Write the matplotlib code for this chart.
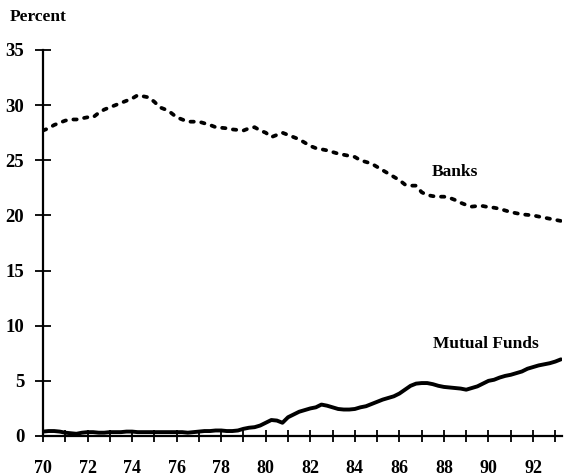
import numpy as np
import matplotlib
matplotlib.use("Agg")
import matplotlib.pyplot as plt

# quarterly observations, 1970Q1 .. 1993Q2
years = np.arange(70.0, 93.26, 0.25)

banks = [27.7, 27.9, 28.2, 28.4,
         28.6, 28.7, 28.7, 28.8,
         28.9, 28.9, 29.3, 29.6,
         29.8, 30.0, 30.2, 30.4,
         30.6, 30.9, 30.8, 30.7,
         30.3, 29.8, 29.6, 29.3,
         28.9, 28.7, 28.5, 28.5,
         28.5, 28.35, 28.2, 28.0,
         27.95, 27.9, 27.8, 27.75,
         27.7, 27.9, 28.0, 27.7,
         27.5, 27.1, 27.3, 27.5,
         27.3, 27.1, 26.9, 26.6,
         26.3, 26.1, 26.0, 25.9,
         25.75, 25.6, 25.5, 25.4,
         25.3, 25.0, 24.85, 24.7,
         24.4, 24.1, 23.8, 23.5,
         23.2, 22.8, 22.7, 22.7,
         22.1, 21.85, 21.75, 21.7,
         21.7, 21.6, 21.4, 21.15,
         20.95, 20.8, 20.85, 20.85,
         20.75, 20.7, 20.6, 20.45,
         20.3, 20.2, 20.1, 20.05,
         20.0, 19.9, 19.8, 19.7,
         19.6, 19.5]

mutual_funds = [0.4, 0.45, 0.45, 0.4,
                0.3, 0.25, 0.2, 0.3,
                0.35, 0.35, 0.3, 0.3,
                0.35, 0.35, 0.35, 0.4,
                0.4, 0.35, 0.35, 0.35,
                0.35, 0.35, 0.35, 0.35,
                0.35, 0.35, 0.3, 0.35,
                0.4, 0.45, 0.45, 0.5,
                0.5, 0.45, 0.45, 0.5,
                0.65, 0.75, 0.8, 0.95,
                1.2, 1.45, 1.4, 1.2,
                1.7, 1.95, 2.2, 2.35,
                2.5, 2.6, 2.85, 2.75,
                2.6, 2.45, 2.4, 2.4,
                2.45, 2.6, 2.7, 2.9,
                3.1, 3.3, 3.45, 3.6,
                3.85, 4.2, 4.55, 4.75,
                4.8, 4.8, 4.7, 4.55,
                4.45, 4.4, 4.35, 4.3,
                4.2, 4.35, 4.5, 4.75,
                5.0, 5.1, 5.3, 5.45,
                5.55, 5.7, 5.85, 6.1,
                6.25, 6.4, 6.5, 6.6,
                6.75, 6.95]

x_major = [70, 72, 74, 76, 78, 80, 82, 84, 86, 88, 90, 92]
x_labels = ["70", "72", "74", "76", "78", "80", "82", "84", "86", "88", "90", "92"]
y_ticks = [0, 5, 10, 15, 20, 25, 30, 35]

plt.rcParams['font.family'] = ['Liberation Serif', 'DejaVu Serif']
plt.rcParams['font.weight'] = 'bold'

fig = plt.figure(figsize=(5.65, 4.76), dpi=100)
ax = fig.add_axes([43/565, 1 - 436/476, (562 - 43)/565, (436 - 50)/476])

ax.plot(years[:len(banks)], banks, color='black', lw=2.7,
        linestyle=(0, (0.9, 2.0)), dash_capstyle='round', solid_capstyle='round')
ax.plot(years[:len(mutual_funds)], mutual_funds, color='black', lw=2.8,
        solid_capstyle='round', solid_joinstyle='round')

ax.set_xlim(70, 93.3)
ax.set_ylim(0, 35)

for s in ['top', 'right']:
    ax.spines[s].set_visible(False)
for s in ['left', 'bottom']:
    ax.spines[s].set_linewidth(1.6)

ax.set_xticks(x_major)
ax.set_xticklabels(x_labels)
ax.set_xticks(np.arange(71, 94, 1), minor=True)
ax.set_yticks(y_ticks)
ax.set_yticklabels([str(v) for v in y_ticks])

ax.tick_params(axis='x', which='both', direction='inout', length=9, width=1.3,
               pad=13, labelsize=13)
ax.tick_params(axis='y', which='major', direction='inout', length=11, width=1.3,
               pad=8, labelsize=13.5)

fig.text(10/565, 1 - 17/476, "Percent", fontsize=12.5, ha='left', va='center')
ax.text(87.45, 23.9, "Banks", fontsize=12.5, ha='left', va='center')
ax.text(87.5, 8.3, "Mutual Funds", fontsize=12.5, ha='left', va='center')

fig.savefig("out.png", dpi=100)
